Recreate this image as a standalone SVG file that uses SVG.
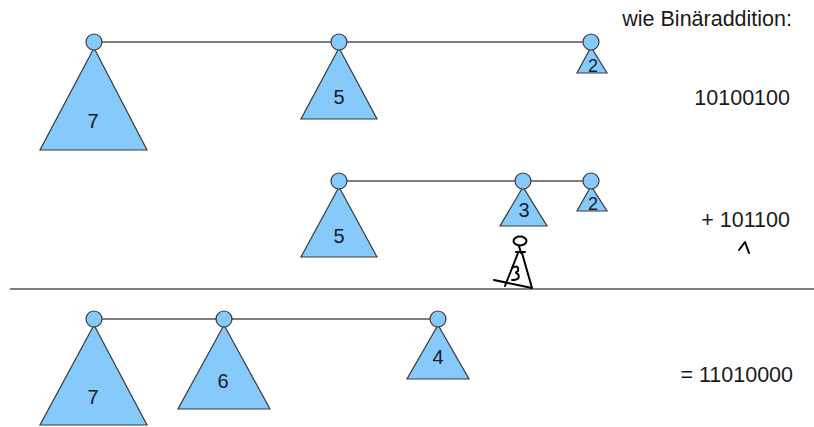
<svg xmlns="http://www.w3.org/2000/svg" width="814" height="427" viewBox="0 0 814 427">
  <style>
    .tri { fill: #86c9fb; stroke: #3a3a3a; stroke-width: 1.2; stroke-linejoin: miter; }
    .root { fill: #86c9fb; stroke: #3a3a3a; stroke-width: 1.2; }
    .link { stroke: #555; stroke-width: 1.4; fill: none; }
    .lbl { font-family: "Liberation Sans", Arial, sans-serif; font-size: 20px; fill: #1a1a2a; text-anchor: middle; }
    .small { font-size: 18px; }
    .sum { font-family: "Liberation Sans", Arial, sans-serif; font-size: 21.5px; fill: #1a1a1a; text-anchor: end; }
    .ink { stroke: #000; stroke-width: 2; fill: none; stroke-linecap: round; stroke-linejoin: round; }
  </style>
  <rect width="814" height="427" fill="#fff"/>

  <!-- connectors between the root nodes of each forest -->
  <g id="connectors">
    <line class="link" x1="94" y1="42" x2="591" y2="42"/>
    <line class="link" x1="339" y1="181" x2="591" y2="181"/>
    <line class="link" x1="94" y1="319" x2="438" y2="319"/>
    <line class="link" x1="10" y1="289" x2="814" y2="289" stroke="#333"/>
  </g>

  <!-- first summand: trees 7, 5, 2 -->
  <g id="a7">
    <polygon class="tri" points="94,48 40,150 147,150"/>
    <circle class="root" cx="94" cy="42" r="8"/>
    <text class="lbl" x="93" y="128">7</text>
  </g>
  <g id="a5">
    <polygon class="tri" points="339,48 301,119 377,119"/>
    <circle class="root" cx="339" cy="42" r="8"/>
    <text class="lbl" x="339" y="104">5</text>
  </g>
  <g id="a2">
    <polygon class="tri" points="591,47 577,73 607,73"/>
    <circle class="root" cx="591" cy="42" r="8"/>
    <text class="lbl small" x="593" y="72">2</text>
  </g>

  <!-- second summand: trees 5, 3, 2 -->
  <g id="b5">
    <polygon class="tri" points="339,187 301,257 377,257"/>
    <circle class="root" cx="339" cy="181" r="8"/>
    <text class="lbl" x="339" y="243">5</text>
  </g>
  <g id="b3">
    <polygon class="tri" points="523,187 500,226 547,226"/>
    <circle class="root" cx="523" cy="181" r="8"/>
    <text class="lbl" x="524" y="217">3</text>
  </g>
  <g id="b2">
    <polygon class="tri" points="591,186 577,211 607,211"/>
    <circle class="root" cx="591" cy="181" r="8"/>
    <text class="lbl small" x="593" y="210">2</text>
  </g>

  <!-- carried tree sketched by hand -->
  <g id="carry">
    <ellipse class="ink" cx="520" cy="241" rx="6.5" ry="4.5"/>
    <path class="ink" d="M519,246 L521,253 M516,252 L525,252 M518,253 L505,286 M522,253 L532,288 M494,280 L532,288"/>
    <path class="ink" stroke-width="1.5" d="M512,268 Q519,264 518,271 Q514,273 518,274 Q521,280 512,280"/>
  </g>

  <!-- result: trees 7, 6, 4 -->
  <g id="c7">
    <polygon class="tri" points="94,325 40,425 147,425"/>
    <circle class="root" cx="94" cy="319" r="8"/>
    <text class="lbl" x="93" y="404">7</text>
  </g>
  <g id="c6">
    <polygon class="tri" points="224,325 178,409 270,409"/>
    <circle class="root" cx="224" cy="319" r="8"/>
    <text class="lbl" x="223" y="388">6</text>
  </g>
  <g id="c4">
    <polygon class="tri" points="438,325 407,379 469,379"/>
    <circle class="root" cx="438" cy="319" r="8"/>
    <text class="lbl" x="438" y="364">4</text>
  </g>

  <!-- binary addition on the right -->
  <g id="binary">
    <text class="sum" x="792" y="26">wie Binäraddition:</text>
    <text class="sum" x="790" y="105">10100100</text>
    <text class="sum" x="790" y="227">+ 101100</text>
    <path class="ink" stroke-width="3" d="M739,250 L745,242 L749,253"/>
    <text class="sum" x="793" y="382">= 11010000</text>
  </g>
</svg>
